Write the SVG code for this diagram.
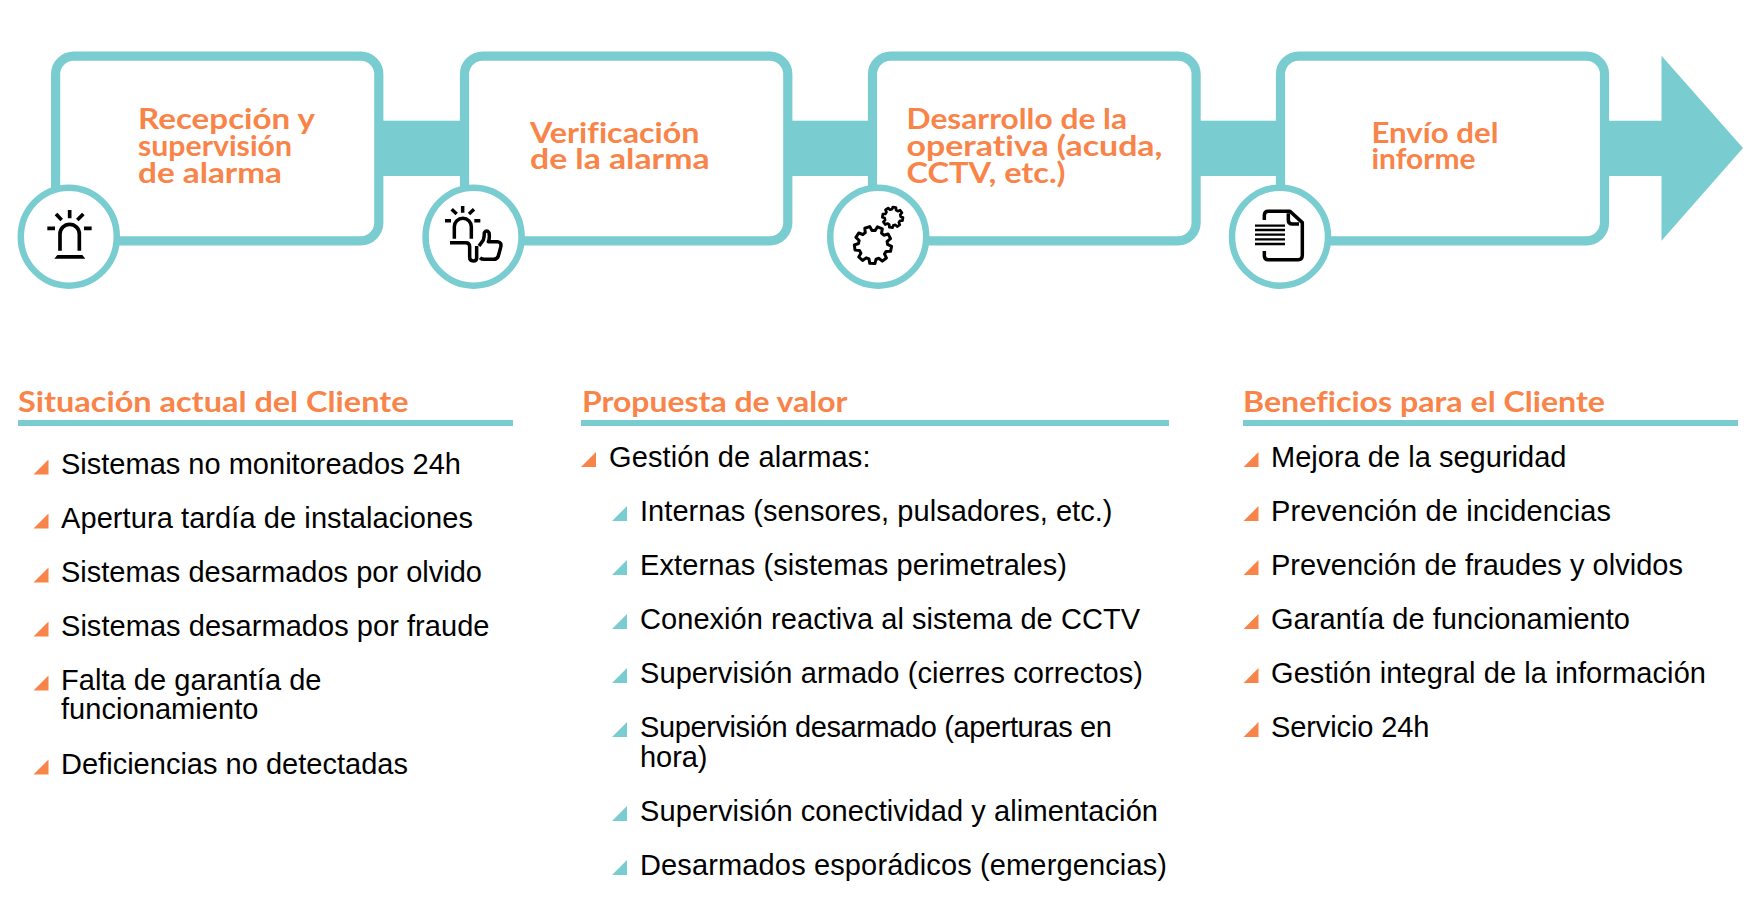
<svg xmlns="http://www.w3.org/2000/svg" width="1754" height="900" viewBox="0 0 1754 900">
<style>
.box{fill:#fff;stroke:#79CCD0;stroke-width:9.2}
.disc{fill:#fff;stroke:#79CCD0;stroke-width:6.5}
.bar{fill:#79CCD0}
.rule{fill:#79CCD0}
.ti{font-family:"Lato","Liberation Sans",sans-serif;font-weight:700;font-size:28px;fill:#F98449;font-variant-ligatures:none}
.tx{font-family:"Liberation Sans",Arial,sans-serif;font-size:29px;fill:#000}
.o{fill:#F98449}
.t{fill:#79CCD0}
.ic{fill:none;stroke:#000;stroke-width:11;stroke-linecap:butt;stroke-linejoin:round}
.thin{stroke-width:10.5}
.gear{fill:none;stroke:#000;stroke-linejoin:round}
</style>
<defs>
<path id="tri" d="M0,15 L15,0 V15 Z"/>
<path id="gear9" d="M.757,-.189 L.990,-.139 L.990,.139 L.757,.189 L.701,.342 L.848,.530 L.669,.743 L.458,.631 L.317,.713 L.309,.951 L.035,.999 L-.054,.778 L-.215,.750 L-.375,.927 L-.616,.788 L-.542,.561 L-.647,.436 L-.883,.469 L-.978,.208 L-.776,.082 L-.776,-.082 L-.978,-.208 L-.883,-.469 L-.647,-.436 L-.542,-.561 L-.616,-.788 L-.375,-.927 L-.215,-.750 L-.054,-.778 L.035,-.999 L.309,-.951 L.317,-.713 L.458,-.631 L.669,-.743 L.848,-.530 L.701,-.342 Z"/>
<path id="gear8" d="M.753,-.202 L.988,-.156 L.988,.156 L.753,.202 L.675,.390 L.809,.588 L.588,.809 L.390,.675 L.202,.753 L.156,.988 L-.156,.988 L-.202,.753 L-.390,.675 L-.588,.809 L-.809,.588 L-.675,.390 L-.753,.202 L-.988,.156 L-.988,-.156 L-.753,-.202 L-.675,-.390 L-.809,-.588 L-.588,-.809 L-.390,-.675 L-.202,-.753 L-.156,-.988 L.156,-.988 L.202,-.753 L.390,-.675 L.588,-.809 L.809,-.588 L.675,-.390 Z"/>
</defs>
<g id="connectors">
<rect class="bar" x="380" y="120.7" width="84" height="55.3"/>
<rect class="bar" x="788" y="120.7" width="84" height="55.3"/>
<rect class="bar" x="1197" y="120.7" width="84" height="55.3"/>
<path class="bar" d="M1605,120.7 H1661.5 V55.7 L1743,148 L1661.5,240.7 V176 H1605 Z"/>
</g>
<g id="node-1">
<rect class="box" x="55.6" y="56.2" width="323.2" height="184.6" rx="18"/>
<text class="ti" x="138" y="128.7" textLength="177" lengthAdjust="spacingAndGlyphs">Recepción y</text>
<text class="ti" x="138" y="155.7" textLength="154" lengthAdjust="spacingAndGlyphs">supervisión</text>
<text class="ti" x="138" y="183.2" textLength="144" lengthAdjust="spacingAndGlyphs">de alarma</text>
<ellipse class="disc" cx="68.8" cy="236.7" rx="48" ry="49"/>
<g transform="translate(20,190) scale(.3333)">
<path class="ic" d="M82,115 H105 M192,115 H215 M149,60 V85 M108,72 L125,90 M190,72 L172,90"/>
<path class="ic" d="M120,182 V132 A29,29 0 0 1 178,132 V182"/>
<path d="M103,206 L112,195 H187 L196,206 Z" fill="#000"/>
</g>
</g>
<g id="node-2">
<rect class="box" x="464.5" y="56.2" width="323.3" height="184.6" rx="18"/>
<text class="ti" x="530" y="142.7" textLength="169.5" lengthAdjust="spacingAndGlyphs">Verificación</text>
<text class="ti" x="530" y="169.4" textLength="179.5" lengthAdjust="spacingAndGlyphs">de la alarma</text>
<ellipse class="disc" cx="473.6" cy="236.7" rx="48" ry="49"/>
<g transform="translate(425,190) scale(.3333)">
<path class="ic thin" d="M60,92 H78 M148,92 H166 M113,48 V68 M80,58 L95,72 M147,58 L132,72"/>
<path class="ic thin" d="M88,146 V110 A25.5,25.5 0 0 1 139,110 V146"/>
<path class="ic thin" d="M75,158 H122 Q134,158 134,170 V202 Q134,213 145,213 Q155,213 155,203 V168"/>
<path class="ic thin" d="M162,168 L175,150 Q178,140 178,128 Q185,118 192,128 Q195,145 190,155 H218 Q231,157 227,172 L220,198 Q216,208 206,208 H178 Q170,208 165,203"/>
</g>
</g>
<g id="node-3">
<rect class="box" x="872.5" y="56.2" width="323.6" height="184.6" rx="18"/>
<text class="ti" x="906.5" y="128.7" textLength="220.5" lengthAdjust="spacingAndGlyphs">Desarrollo de la</text>
<text class="ti" x="906.5" y="155.7" textLength="256" lengthAdjust="spacingAndGlyphs">operativa (acuda,</text>
<text class="ti" x="906.5" y="183.2" textLength="159" lengthAdjust="spacingAndGlyphs">CCTV, etc.)</text>
<ellipse class="disc" cx="878.2" cy="236.7" rx="48" ry="49"/>
<g transform="translate(830,190) scale(.3333)">
<use href="#gear9" class="gear" transform="translate(129,165) scale(56) rotate(12)" stroke-width=".16"/>
<use href="#gear8" class="gear" transform="translate(188,82) scale(31) rotate(10)" stroke-width=".26"/>
</g>
</g>
<g id="node-4">
<rect class="box" x="1280.5" y="56.2" width="324" height="184.6" rx="18"/>
<text class="ti" x="1371.5" y="142.7" textLength="127" lengthAdjust="spacingAndGlyphs">Envío del</text>
<text class="ti" x="1371.5" y="169.4" textLength="104" lengthAdjust="spacingAndGlyphs">informe</text>
<ellipse class="disc" cx="1280" cy="236.7" rx="48" ry="49"/>
<g transform="translate(1230,190) scale(.3333)">
<path class="ic thin" d="M103,90 V76 Q103,64 115,64 H180 L217,98 V195 Q217,209 205,209 H115 Q103,209 103,197 V183"/>
<path class="ic thin" d="M175,70 V90 Q175,102 187,102 H207"/>
<path class="ic" style="stroke-width:7" d="M75,107 H165 M75,120 H165 M75,134 H165 M75,148 H165 M75,162 H165"/>
</g>
</g>
<g id="col-situacion">
<text class="ti" x="18" y="412" textLength="390.5" lengthAdjust="spacingAndGlyphs">Situación actual del Cliente</text>
<rect class="rule" x="18" y="420" width="495" height="6"/>
<use href="#tri" class="o" x="33.5" y="459.5"/><text class="tx" x="61" y="474" textLength="400">Sistemas no monitoreados 24h</text>
<use href="#tri" class="o" x="33.5" y="513.5"/><text class="tx" x="61" y="528" textLength="412">Apertura tardía de instalaciones</text>
<use href="#tri" class="o" x="33.5" y="567.5"/><text class="tx" x="61" y="582" textLength="421">Sistemas desarmados por olvido</text>
<use href="#tri" class="o" x="33.5" y="621.5"/><text class="tx" x="61" y="636" textLength="428.5">Sistemas desarmados por fraude</text>
<use href="#tri" class="o" x="33.5" y="675.5"/><text class="tx" x="61" y="690" textLength="260.5">Falta de garantía de</text>
<text class="tx" x="61" y="719" textLength="197.4">funcionamiento</text>
<use href="#tri" class="o" x="33.5" y="759.5"/><text class="tx" x="61" y="774" textLength="347">Deficiencias no detectadas</text>
</g>
<g id="col-propuesta">
<text class="ti" x="582" y="412" textLength="265.5" lengthAdjust="spacingAndGlyphs">Propuesta de valor</text>
<rect class="rule" x="581" y="420" width="588" height="6"/>
<use href="#tri" class="o" x="581" y="452"/><text class="tx" x="609" y="467" textLength="261.5">Gestión de alarmas:</text>
<use href="#tri" class="t" x="612" y="506"/><text class="tx" x="640" y="521" textLength="472.5">Internas (sensores, pulsadores, etc.)</text>
<use href="#tri" class="t" x="612" y="560"/><text class="tx" x="640" y="575" textLength="427">Externas (sistemas perimetrales)</text>
<use href="#tri" class="t" x="612" y="614"/><text class="tx" x="640" y="629" textLength="500">Conexión reactiva al sistema de CCTV</text>
<use href="#tri" class="t" x="612" y="668"/><text class="tx" x="640" y="683" textLength="503">Supervisión armado (cierres correctos)</text>
<use href="#tri" class="t" x="612" y="722"/><text class="tx" x="640" y="737" textLength="472">Supervisión desarmado (aperturas en</text>
<text class="tx" x="640" y="767" textLength="67.5">hora)</text>
<use href="#tri" class="t" x="612" y="806"/><text class="tx" x="640" y="821" textLength="518">Supervisión conectividad y alimentación</text>
<use href="#tri" class="t" x="612" y="860"/><text class="tx" x="640" y="875" textLength="527">Desarmados esporádicos (emergencias)</text>
</g>
<g id="col-beneficios">
<text class="ti" x="1243" y="412" textLength="362" lengthAdjust="spacingAndGlyphs">Beneficios para el Cliente</text>
<rect class="rule" x="1243" y="420" width="495" height="6"/>
<use href="#tri" class="o" x="1243.5" y="452"/><text class="tx" x="1271" y="467" textLength="295.5">Mejora de la seguridad</text>
<use href="#tri" class="o" x="1243.5" y="506"/><text class="tx" x="1271" y="521" textLength="340">Prevención de incidencias</text>
<use href="#tri" class="o" x="1243.5" y="560"/><text class="tx" x="1271" y="575" textLength="412">Prevención de fraudes y olvidos</text>
<use href="#tri" class="o" x="1243.5" y="614"/><text class="tx" x="1271" y="629" textLength="359">Garantía de funcionamiento</text>
<use href="#tri" class="o" x="1243.5" y="668"/><text class="tx" x="1271" y="683" textLength="435">Gestión integral de la información</text>
<use href="#tri" class="o" x="1243.5" y="722"/><text class="tx" x="1271" y="737" textLength="158.5">Servicio 24h</text>
</g>
</svg>
